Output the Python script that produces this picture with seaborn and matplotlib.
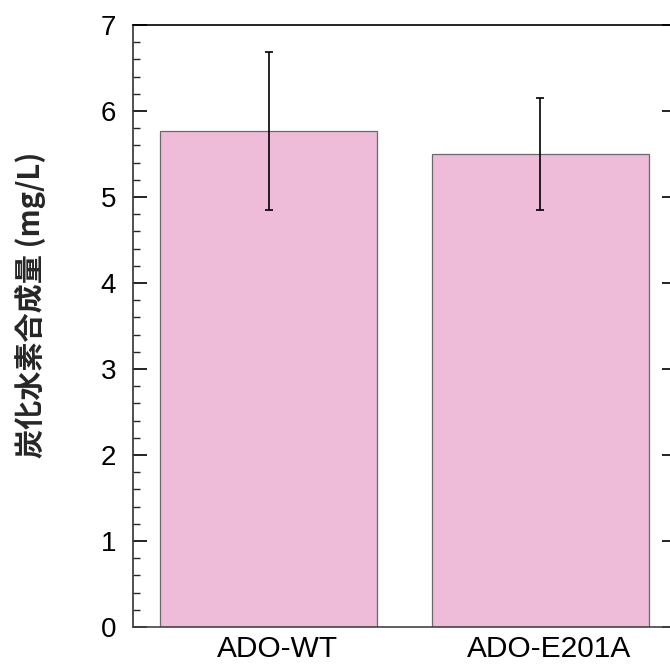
import matplotlib
matplotlib.use("Agg")
import matplotlib.pyplot as plt
import matplotlib.transforms as mtransforms
import seaborn as sns
import pandas as pd
from matplotlib.ticker import MultipleLocator

categories = ["ADO-WT", "ADO-E201A"]
means = [5.77, 5.50]
errors = [0.92, 0.655]
y_ticks = [0, 1, 2, 3, 4, 5, 6, 7]
ylabel = "炭化水素合成量 (mg/L)"

sns.set_theme(style="white")
plt.rcParams['font.family'] = ['Liberation Sans', 'DejaVu Sans']

df = pd.DataFrame({"group": categories, "value": means})

fig = plt.figure(figsize=(6.7, 6.68), dpi=100)
ax = fig.add_axes([133/670, 41/668, (676.3-133)/670, (627-25)/668])

sns.barplot(data=df, x="group", y="value", order=categories, errorbar=None,
            color="#EEBBD8", saturation=1, width=0.8,
            edgecolor="#6a6a6a", linewidth=0.9, ax=ax)
ax.errorbar(range(len(categories)), means, yerr=errors, fmt="none",
            ecolor="black", elinewidth=1.2, capsize=3, capthick=1.2, zorder=5)

ax.set_xlim(-0.5, 1.5)
ax.set_ylim(0, 7)
ax.set_yticks(y_ticks)
ax.yaxis.set_minor_locator(MultipleLocator(0.2))
ax.set_xlabel("")
ax.set_ylabel(ylabel, fontsize=21, fontweight="bold",
              family=['Noto Sans CJK JP', 'DejaVu Sans'])
ax.yaxis.set_label_coords(-0.16, 0.535)

for s in ax.spines.values():
    s.set_visible(True)
    s.set_color("black")
    s.set_linewidth(1.2)
ax.spines['bottom'].set_color("#444444")
ax.spines['left'].set_color("#333333")

ax.tick_params(axis='y', which='major', direction='in', length=10, width=1.2,
               labelsize=20, pad=12, left=True, right=True, colors='black')
ax.tick_params(axis='y', which='minor', direction='in', length=5, width=1.0,
               left=True, right=False)
ax.tick_params(axis='x', which='both', length=0, labelsize=21.5, pad=6,
               colors='black')
ax.grid(False)

shift = mtransforms.ScaledTranslation(9/100, 0, fig.dpi_scale_trans)
for lbl in ax.get_xticklabels():
    lbl.set_transform(lbl.get_transform() + shift)

fig.savefig("out.png", dpi=100)
